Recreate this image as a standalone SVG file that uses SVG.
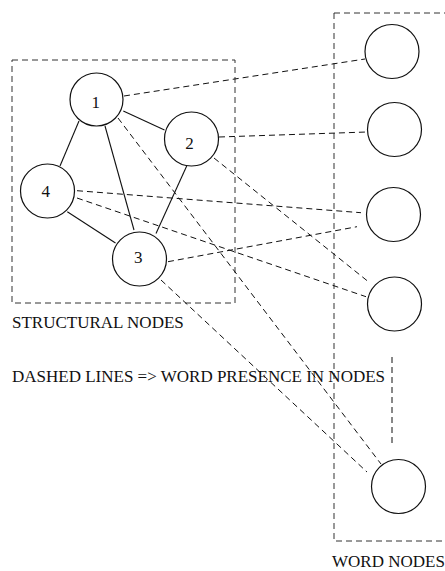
<svg xmlns="http://www.w3.org/2000/svg" width="445" height="571" viewBox="0 0 445 571">
<style>
  .node { fill: #fff; stroke: #111; stroke-width: 1.2; }
  .box { fill: none; stroke: #333; stroke-width: 1; stroke-dasharray: 6 4; }
  .solid { stroke: #111; stroke-width: 1.1; fill: none; }
  .dash { stroke: #111; stroke-width: 1; fill: none; stroke-dasharray: 6 4; }
  text { font-family: "Liberation Serif", "Times New Roman", serif; font-size: 17px; fill: #111; }
  .lbl { text-anchor: middle; }
</style>
<rect width="445" height="571" fill="#fff"/>
<g id="structural-box">
  <rect class="box" x="12" y="60" width="223" height="243"/>
  <text x="12" y="328">STRUCTURAL NODES</text>
</g>
<g id="word-box">
  <rect class="box" x="334" y="13" width="120" height="528"/>
  <text x="332" y="567">WORD NODES</text>
</g>
<g id="legend">
  <text x="12" y="382">DASHED LINES =&gt; WORD PRESENCE IN NODES</text>
</g>
<g id="connectors">
  <line class="solid" x1="123.3" y1="111" x2="164.5" y2="130"/>
  <line class="solid" x1="79" y1="121" x2="60" y2="166"/>
  <line class="solid" x1="105" y1="126" x2="134" y2="230"/>
  <line class="solid" x1="186.7" y1="166" x2="156" y2="233.5"/>
  <line class="solid" x1="67.3" y1="211.7" x2="115.5" y2="243"/>
  <line class="dash" x1="124" y1="96" x2="365" y2="59"/>
  <line class="dash" x1="219" y1="137" x2="367" y2="132"/>
  <line class="dash" x1="214" y1="158" x2="370" y2="283"/>
  <line class="dash" x1="77" y1="190.7" x2="361" y2="212.7"/>
  <line class="dash" x1="77" y1="198" x2="366" y2="296.7"/>
  <line class="dash" x1="168" y1="261.7" x2="357" y2="226.7"/>
  <line class="dash" x1="118" y1="118" x2="381" y2="464"/>
  <line class="dash" x1="161" y1="280" x2="367" y2="472"/>
  <line class="dash" x1="392" y1="357" x2="392" y2="443"/>
</g>
<g id="node-1"><circle class="node" cx="96.5" cy="99.5" r="26.5"/><text class="lbl" x="95.7" y="108">1</text></g>
<g id="node-2"><circle class="node" cx="191.5" cy="139" r="27"/><text class="lbl" x="189.5" y="149">2</text></g>
<g id="node-3"><circle class="node" cx="139.5" cy="259" r="27"/><text class="lbl" x="138.3" y="263">3</text></g>
<g id="node-4"><circle class="node" cx="47.5" cy="191" r="27"/><text class="lbl" x="45.8" y="197">4</text></g>
<g id="word-1"><circle class="node" cx="392" cy="51.5" r="27"/></g>
<g id="word-2"><circle class="node" cx="394.5" cy="129.5" r="27"/></g>
<g id="word-3"><circle class="node" cx="393.5" cy="214.5" r="27"/></g>
<g id="word-4"><circle class="node" cx="394.5" cy="304" r="27"/></g>
<g id="word-5"><circle class="node" cx="398.5" cy="486.5" r="27"/></g>
</svg>
